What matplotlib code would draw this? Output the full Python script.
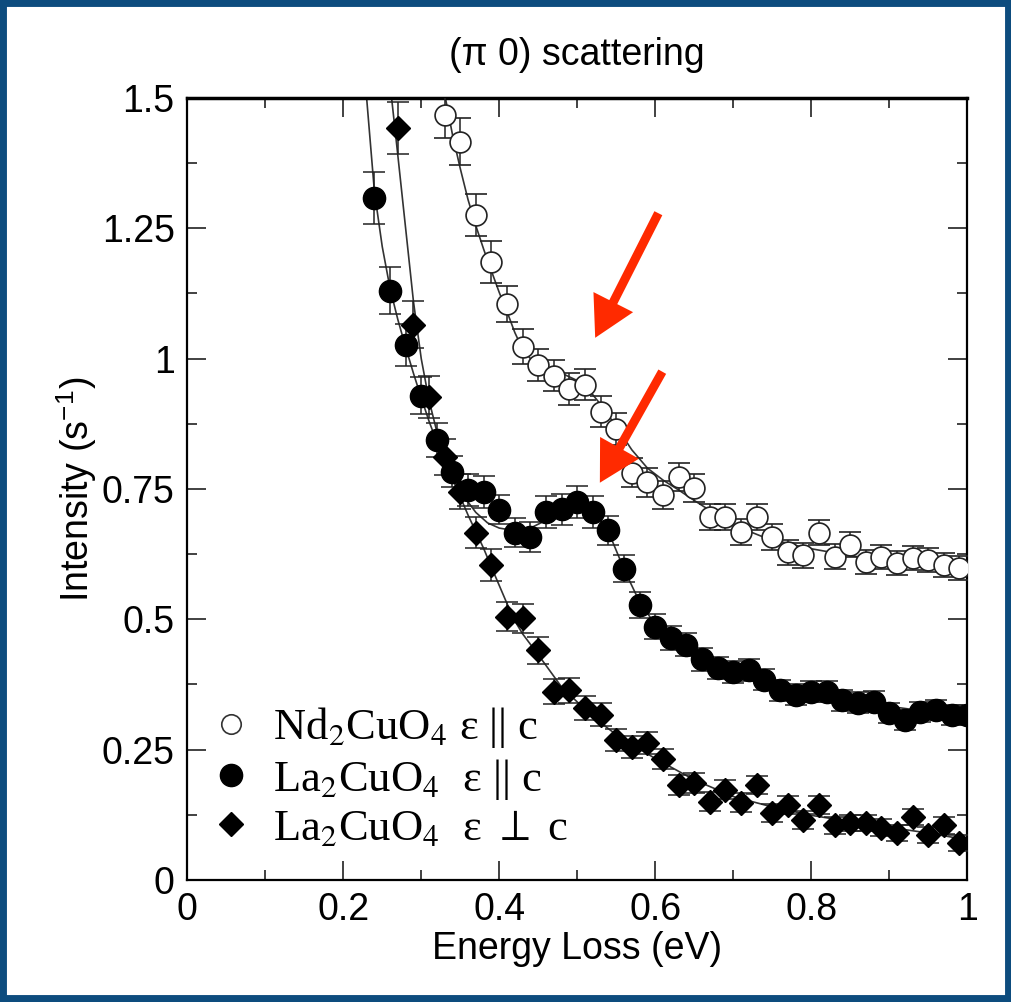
import numpy as np
import matplotlib.pyplot as plt
from matplotlib.lines import Line2D
from matplotlib.patches import Rectangle

# ---- data ----
# Nd2CuO4, eps || c (open circles)
nd_x = [0.33, 0.35, 0.37, 0.39, 0.41, 0.43, 0.45, 0.47, 0.49, 0.51, 0.53, 0.55,
        0.57, 0.59, 0.61, 0.63, 0.65, 0.67, 0.69, 0.71, 0.73, 0.75, 0.77, 0.79,
        0.81, 0.83, 0.85, 0.87, 0.89, 0.91, 0.93, 0.95, 0.97, 0.99]
nd_y = [1.468, 1.416, 1.276, 1.186, 1.105, 1.023, 0.988, 0.967, 0.942, 0.950,
        0.898, 0.865, 0.781, 0.763, 0.739, 0.773, 0.752, 0.696, 0.696, 0.668,
        0.696, 0.658, 0.629, 0.623, 0.666, 0.620, 0.643, 0.610, 0.620, 0.608,
        0.618, 0.614, 0.604, 0.599]
nd_err = [0.045, 0.045, 0.040, 0.040, 0.035, 0.033, 0.030, 0.030, 0.030, 0.030,
          0.030, 0.030, 0.028, 0.028, 0.027, 0.027, 0.027, 0.025, 0.025, 0.025,
          0.025, 0.025, 0.024, 0.024, 0.024, 0.024, 0.024, 0.023, 0.023, 0.023,
          0.023, 0.023, 0.023, 0.023]

# La2CuO4, eps || c (filled circles)
la_x = [0.24, 0.26, 0.28, 0.30, 0.32, 0.34, 0.36, 0.38, 0.40, 0.42, 0.44, 0.46,
        0.48, 0.50, 0.52, 0.54, 0.56, 0.58, 0.60, 0.62, 0.64, 0.66, 0.68, 0.70,
        0.72, 0.74, 0.76, 0.78, 0.80, 0.82, 0.84, 0.86, 0.88, 0.90, 0.92, 0.94,
        0.96, 0.98, 1.00]
la_y = [1.308, 1.130, 1.026, 0.929, 0.844, 0.783, 0.748, 0.744, 0.710, 0.666,
        0.658, 0.706, 0.711, 0.725, 0.706, 0.671, 0.597, 0.528, 0.486, 0.464,
        0.451, 0.423, 0.407, 0.399, 0.403, 0.384, 0.364, 0.355, 0.361, 0.361,
        0.345, 0.340, 0.342, 0.320, 0.307, 0.322, 0.326, 0.316, 0.316]
la_err = [0.050, 0.045, 0.040, 0.035, 0.033, 0.030, 0.030, 0.030, 0.028, 0.028,
          0.028, 0.030, 0.030, 0.030, 0.030, 0.028, 0.026, 0.025, 0.024, 0.023,
          0.022, 0.022, 0.021, 0.021, 0.021, 0.020, 0.020, 0.020, 0.020, 0.020,
          0.020, 0.020, 0.020, 0.019, 0.019, 0.019, 0.019, 0.019, 0.019]

# La2CuO4, eps perp c (diamonds)
pp_x = [0.27, 0.29, 0.31, 0.33, 0.35, 0.37, 0.39, 0.41, 0.43, 0.45, 0.47, 0.49,
        0.51, 0.53, 0.55, 0.57, 0.59, 0.61, 0.63, 0.65, 0.67, 0.69, 0.71, 0.73,
        0.75, 0.77, 0.79, 0.81, 0.83, 0.85, 0.87, 0.89, 0.91, 0.93, 0.95, 0.97,
        0.99]
pp_y = [1.443, 1.065, 0.926, 0.811, 0.745, 0.666, 0.604, 0.505, 0.502, 0.441,
        0.361, 0.364, 0.330, 0.317, 0.269, 0.255, 0.263, 0.232, 0.182, 0.186,
        0.150, 0.173, 0.148, 0.182, 0.128, 0.144, 0.115, 0.144, 0.105, 0.109,
        0.109, 0.100, 0.090, 0.121, 0.086, 0.105, 0.071]
pp_err = [0.050, 0.045, 0.040, 0.035, 0.033, 0.030, 0.030, 0.028, 0.028, 0.026,
          0.024, 0.024, 0.023, 0.022, 0.021, 0.021, 0.021, 0.020, 0.019, 0.019,
          0.018, 0.018, 0.018, 0.018, 0.017, 0.017, 0.017, 0.017, 0.016, 0.016,
          0.016, 0.016, 0.016, 0.016, 0.016, 0.016, 0.016]

# fit curves
nd_fit_x = [0.331, 0.34, 0.35, 0.36, 0.37, 0.38, 0.39, 0.40, 0.41, 0.42, 0.43,
            0.44, 0.45, 0.46, 0.48, 0.50, 0.515, 0.53, 0.55, 0.57, 0.59, 0.61,
            0.63, 0.65, 0.675, 0.70, 0.74, 0.79, 0.85, 0.91, 0.96, 1.0]
nd_fit_y = [1.500, 1.430, 1.365, 1.305, 1.255, 1.210, 1.168, 1.127, 1.090, 1.050,
            1.018, 1.000, 0.990, 0.983, 0.972, 0.958, 0.940, 0.912, 0.870, 0.825,
            0.790, 0.767, 0.748, 0.728, 0.704, 0.681, 0.657, 0.638, 0.622, 0.610,
            0.603, 0.599]
la_fit_x = [0.230, 0.235, 0.24, 0.25, 0.26, 0.27, 0.28, 0.29, 0.30, 0.31, 0.32,
            0.33, 0.34, 0.355, 0.37, 0.385, 0.40, 0.42, 0.44, 0.46, 0.48, 0.50,
            0.515, 0.53, 0.545, 0.56, 0.58, 0.60, 0.62, 0.65, 0.70, 0.75, 0.80,
            0.85, 0.90, 0.95, 1.0]
la_fit_y = [1.500, 1.410, 1.320, 1.215, 1.135, 1.075, 1.022, 0.972, 0.925, 0.880,
            0.840, 0.805, 0.772, 0.735, 0.705, 0.685, 0.675, 0.670, 0.675, 0.690,
            0.708, 0.718, 0.712, 0.690, 0.650, 0.596, 0.533, 0.490, 0.465, 0.438,
            0.405, 0.380, 0.362, 0.347, 0.333, 0.323, 0.315]
pp_fit_x = [0.262, 0.27, 0.28, 0.29, 0.30, 0.31, 0.32, 0.33, 0.34, 0.35, 0.36,
            0.37, 0.38, 0.39, 0.40, 0.41, 0.42, 0.43, 0.45, 0.48, 0.52, 0.555,
            0.60, 0.65, 0.70, 0.75, 0.80, 0.85, 0.90, 0.95, 1.0]
pp_fit_y = [1.500, 1.390, 1.250, 1.110, 1.000, 0.920, 0.860, 0.810, 0.770, 0.735,
            0.700, 0.668, 0.636, 0.600, 0.565, 0.530, 0.497, 0.472, 0.432, 0.370,
            0.313, 0.273, 0.233, 0.192, 0.160, 0.140, 0.124, 0.112, 0.101, 0.090,
            0.077]

legend_labels = [r'Nd$_2$CuO$_4$ ε || c', r'La$_2$CuO$_4$  ε || c',
                 r'La$_2$CuO$_4$  ε $\perp$ c']
x_ticks = [0, 0.2, 0.4, 0.6, 0.8, 1]
y_ticks = [0, 0.25, 0.5, 0.75, 1, 1.25, 1.5]

# red arrows: (tail, tip) in data units
arrows = [((0.604, 1.279), (0.523, 1.040)),
          ((0.609, 0.975), (0.529, 0.762))]

plt.rcParams['font.family'] = ['Liberation Sans', 'DejaVu Sans']
plt.rcParams['mathtext.fontset'] = 'stix'

fig = plt.figure(figsize=(10.12, 10.02), dpi=100)
ax = fig.add_axes([0.185, 0.1218, 0.7708, 0.7804])

ebkw = dict(ecolor='#222222', elinewidth=1.1, capsize=8, capthick=1.1,
            linestyle='none', zorder=3)
ax.errorbar(nd_x, nd_y, yerr=nd_err, marker='o', ms=15, mfc='white',
            mec='#222222', mew=1.2, **ebkw)
ax.errorbar(la_x, la_y, yerr=la_err, marker='o', ms=16, mfc='black',
            mec='black', **ebkw)
ax.errorbar(pp_x, pp_y, yerr=pp_err, marker='D', ms=12, mfc='black',
            mec='black', **ebkw)

for fx, fy in [(nd_fit_x, nd_fit_y), (la_fit_x, la_fit_y), (pp_fit_x, pp_fit_y)]:
    ax.plot(fx, fy, color='#333333', lw=1.2, zorder=2)

for tail, tip in arrows:
    ax.annotate('', xy=tip, xytext=tail,
                arrowprops=dict(arrowstyle='simple,head_length=0.9,head_width=1.0,tail_width=0.2',
                                mutation_scale=32, fc='#ff2a00', ec='none',
                                shrinkA=0, shrinkB=0), zorder=5)

ax.set_xlim(0, 1)
ax.set_ylim(0, 1.5)
ax.set_xticks(x_ticks)
ax.set_xticklabels(['%g' % t for t in x_ticks])
ax.set_yticks(y_ticks)
ax.set_yticklabels(['%g' % t for t in y_ticks])
ax.set_xticks(np.arange(0.1, 1.0, 0.2), minor=True)
ax.set_yticks(np.arange(0.125, 1.5, 0.25), minor=True)
ax.tick_params(which='both', direction='in', top=True, right=True,
               labelsize=27, width=1.3, color='#333333')
ax.tick_params(which='major', length=14, pad=9)
ax.tick_params(which='minor', length=7)
for sp in ax.spines.values():
    sp.set_linewidth(1.6)
ax.spines['top'].set_linewidth(2.5)

ax.set_xlabel('Energy Loss (eV)', fontsize=27, labelpad=2)
ax.set_ylabel(r'Intensity (s$^{\mathregular{-1}}$)', fontsize=27, labelpad=2)
ax.set_title('(π 0) scattering', fontsize=27, pad=24)

handles = [Line2D([], [], ls='none', marker='o', ms=14, mfc='white', mec='#333333', mew=1.2),
           Line2D([], [], ls='none', marker='o', ms=16, mfc='black', mec='black'),
           Line2D([], [], ls='none', marker='D', ms=12, mfc='black', mec='black')]
ax.legend(handles, legend_labels, loc='lower left', bbox_to_anchor=(0.027, 0.04),
          frameon=False, handletextpad=0.45, labelspacing=0.15, handlelength=1.0,
          borderpad=0, borderaxespad=0,
          prop=dict(family=['Liberation Serif', 'DejaVu Serif'], size=32))

# slide background frame
fig.patches.append(Rectangle((0, 0), 1, 1, transform=fig.transFigure, fill=False,
                             ec='#0d4c7e', lw=10, zorder=10))

fig.savefig('out.png', dpi=100)
